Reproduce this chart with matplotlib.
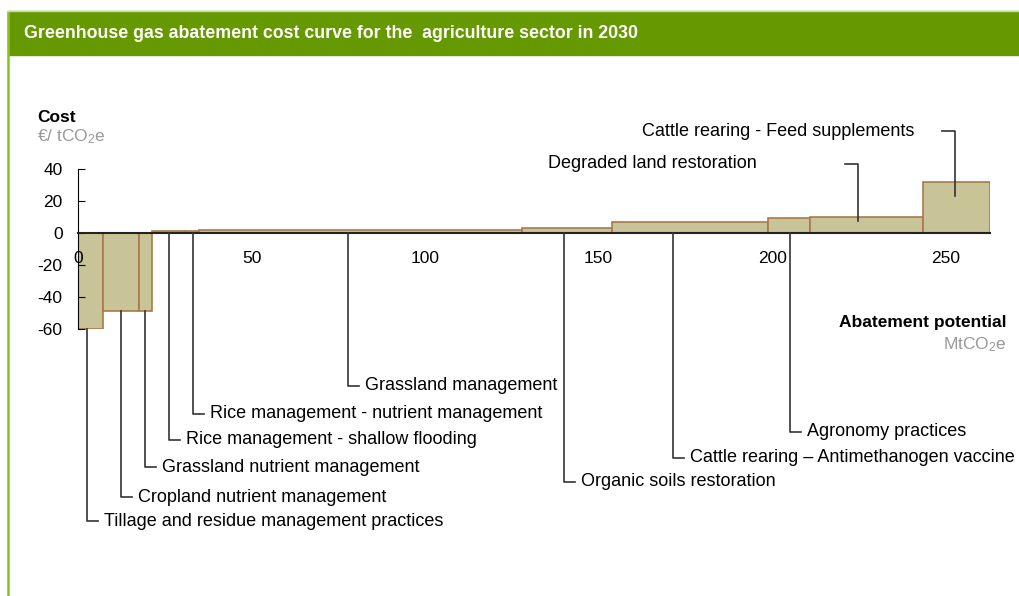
import matplotlib.pyplot as plt
from matplotlib.patches import Rectangle
from matplotlib.lines import Line2D

plt.rcParams['font.family'] = ['Liberation Sans', 'DejaVu Sans']
plt.rcParams['mathtext.fontset'] = 'custom'
plt.rcParams['mathtext.rm'] = 'Liberation Sans'
plt.rcParams['mathtext.it'] = 'Liberation Sans:italic'
plt.rcParams['axes.unicode_minus'] = False

# data
measures = ["Tillage and residue management practices",
            "Cropland nutrient management",
            "Grassland nutrient management",
            "Rice management - shallow flooding",
            "Rice management - nutrient management",
            "Grassland management",
            "Organic soils restoration",
            "Cattle rearing \u2013 Antimethanogen vaccine",
            "Agronomy practices",
            "Degraded land restoration",
            "Cattle rearing - Feed supplements"]
potential = [7.3, 10.3, 3.7, 9.5, 4.2, 92.9, 25.9, 45.1, 12.0, 32.7, 19.2]   # MtCO2e
cost = [-60, -49, -49, 1, 1, 2.1, 3.3, 6.6, 9.5, 10.1, 31.8]                  # EUR/tCO2e
xticks = [0, 50, 100, 150, 200, 250]
yticks = [40, 20, 0, -20, -40, -60]

# label layout: pixel row of each label, which side, where the leader sits in the bar
label_row = [521, 497, 467, 440, 414, 386, 482, 458, 432, 164, 131]
label_above = [False] * 9 + [True, True]
leader_frac = [0.36, 0.49, 0.46, 0.52, 0.56, 0.46, 0.47, 0.39, 0.52, 0.42, 0.47]
text_gap_above = {9: 88, 10: 27}

W, H = 1020, 596
fig = plt.figure(figsize=(W / 100, H / 100), dpi=100)

# header band and green frame
fig.patches.append(Rectangle((8 / W, 1 - 55 / H), 1 - 8 / W, 44 / H,
                             transform=fig.transFigure, color='#669900', zorder=0))
fig.lines.append(Line2D([8.5 / W, 8.5 / W], [0, 1 - 12 / H], transform=fig.transFigure,
                        color='#8cc21f', lw=1.8))
fig.lines.append(Line2D([8 / W, 1], [1 - 11 / H, 1 - 11 / H], transform=fig.transFigure,
                        color='#c9dca0', lw=1))
fig.text(24 / W, 1 - 34 / H,
         "Greenhouse gas abatement cost curve for the  agriculture sector in 2030",
         color='white', fontsize=12.8, fontweight='bold', va='center', ha='left')

ax = fig.add_axes([78 / W, (H - 329) / H, 912 / W, 160 / H])
total = sum(potential)
ax.set_xlim(0, total)
ax.set_ylim(-60, 40)

starts = [sum(potential[:i]) for i in range(len(potential))]
ax.bar(starts, cost, width=potential, align='edge', color='#c8c497',
       edgecolor='#a9794a', linewidth=1.2, zorder=1)

for s in ['top', 'right']:
    ax.spines[s].set_visible(False)
ax.spines['left'].set_bounds(-60, 40)
ax.spines['bottom'].set_position(('data', 0))
ax.spines['bottom'].set_linewidth(1.5)
ax.spines['bottom'].set_color('#222222')
ax.spines['bottom'].set_zorder(3)
ax.set_yticks(yticks)
ax.set_xticks(xticks)
ax.tick_params(axis='y', direction='in', length=5, labelsize=12.5, pad=11)
ax.tick_params(axis='x', length=0, labelsize=12.5, pad=13)

inv = ax.transData.inverted()


def to_data(px, py):
    return inv.transform((px, H - py))


def px_dx(n):
    return n * total / 912


for i, name in enumerate(measures):
    lx = starts[i] + leader_frac[i] * potential[i]
    ly = to_data(0, label_row[i])[1]
    if label_above[i]:
        y0 = 0.72 * cost[i]
        ax.plot([lx, lx, lx - px_dx(13)], [y0, ly, ly], color='#333333',
                lw=1.2, clip_on=False, zorder=4)
        ax.text(lx - px_dx(13 + text_gap_above[i]), ly, name, ha='right', va='center',
                fontsize=13, clip_on=False)
    else:
        y0 = cost[i] if cost[i] < 0 else 0
        ax.plot([lx, lx, lx + px_dx(11)], [y0, ly, ly], color='#333333',
                lw=1.2, clip_on=False, zorder=4)
        ax.text(lx + px_dx(17), ly, name, ha='left', va='center',
                fontsize=13, clip_on=False)

fig.text(37 / W, 1 - 118 / H, "Cost", fontsize=12.5, fontweight='bold', va='center')
fig.text(37 / W, 1 - 137 / H, r"€/ tCO$_2$e", fontsize=12.5, color='#999999', va='center')
fig.text(1007 / W, 1 - 323 / H, "Abatement potential", fontsize=12.5, fontweight='bold',
         ha='right', va='center')
fig.text(1007 / W, 1 - 345 / H, r"MtCO$_2$e", fontsize=12.5, color='#999999',
         ha='right', va='center')

fig.savefig("out.png", dpi=100)
